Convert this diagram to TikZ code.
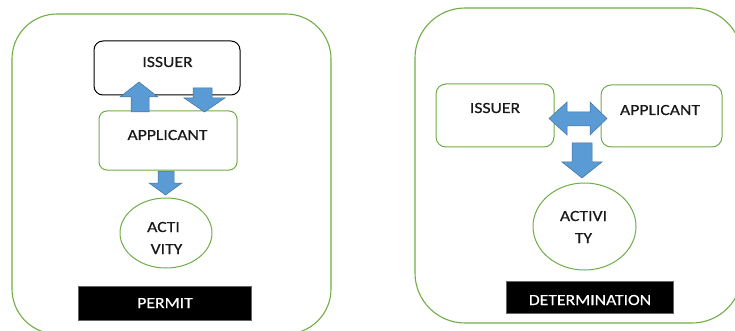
\documentclass[tikz,border=0pt]{standalone}
\usepackage{fontspec}
\newfontfamily\lab[FakeStretch=1.14,FakeBold=0.5]{Carlito}
\usetikzlibrary{shapes.geometric}
\definecolor{gline}{HTML}{70AD47}
\definecolor{afill}{HTML}{5B9BD5}
\definecolor{aline}{HTML}{41719C}
\tikzset{
  panel/.style={draw=gline, line width=1.1pt, rounded corners=#1, inner sep=0pt},
  gbox/.style={draw=gline, line width=1pt, rounded corners=8pt, fill=white, inner sep=0pt},
  kbox/.style={draw=black, line width=1pt, rounded corners=9pt, fill=white, inner sep=0pt},
  gell/.style={draw=gline, line width=1pt, ellipse, fill=white, inner sep=0pt},
  tagbox/.style={fill=black, draw=black!60, line width=0.4pt, inner sep=0pt},
  txt/.style={anchor=base, inner sep=0pt, text=black!90, font={\lab\fontsize{15.5}{18}\selectfont}},
  wtxt/.style={txt, text=white},
  blockarrow/.style={fill=afill, draw=aline, line width=0.5pt, line join=miter}
}
\begin{document}
\begin{tikzpicture}[x=1pt,y=-1pt]
\useasboundingbox (0,0) rectangle (735,331);
\clip (0,0) rectangle (735,331);
% ---------- left panel: PERMIT ----------
\node[panel=45pt, minimum width=319pt, minimum height=320pt] (lpanel) at (171.5,174) {};
\node[kbox, minimum width=146pt, minimum height=54pt] (liss) at (167,68) {};
\node[txt] (lisst) at (167.5,67) {ISSUER};
\node[gbox, minimum width=138pt, minimum height=59pt] (lapp) at (168,140.5) {};
\node[txt] (lappt) at (167.5,140) {APPLICANT};
\node[gell, minimum width=92pt, minimum height=70pt] (lact) at (166,233) {};
\node[txt] (lact1) at (163.5,232) {ACTI};
\node[txt] (lact2) at (166.5,254) {VITY};
\node[tagbox, minimum width=173pt, minimum height=34pt] (permit) at (164.5,303) {};
\node[wtxt] (permitt) at (165,308) {PERMIT};
% arrows
\draw[blockarrow] (131,112) -- (131,97) -- (120,97) -- (139,82) -- (158,97) -- (149,97) -- (149,112) -- cycle;
\draw[blockarrow] (193,88) -- (212,88) -- (212,98) -- (225,98) -- (204.5,112) -- (184,98) -- (193,98) -- cycle;
\draw[blockarrow] (158,171) -- (174,171) -- (174,183) -- (182,183) -- (165.5,195) -- (149,183) -- (158,183) -- cycle;
% ---------- right panel: DETERMINATION ----------
\node[panel=50pt, minimum width=327pt, minimum height=315pt] (rpanel) at (578.5,165.5) {};
\node[gbox, rounded corners=10pt, minimum width=118pt, minimum height=63pt] (riss) at (495,115.5) {};
\node[txt] (risst) at (495,113) {ISSUER};
\node[gbox, rounded corners=10pt, minimum width=121pt, minimum height=62pt] (rapp) at (661.5,116) {};
\node[txt] (rappt) at (660,115) {APPLICANT};
\node[gell, minimum width=103pt, minimum height=87pt] (ract) at (584.5,226.5) {};
\node[txt] (ract1) at (583.5,221) {ACTIVI};
\node[txt] (ract2) at (583.5,243) {TY};
\node[tagbox, minimum width=167pt, minimum height=32pt] (det) at (589.5,297) {};
\node[wtxt] (dett) at (590,305) {DETERMINATION};
% arrows
\draw[blockarrow] (549,118.5) -- (567,102) -- (567,112) -- (590,112) -- (590,102) -- (607,118.5) -- (590,135) -- (590,126) -- (567,126) -- (567,135) -- cycle;
\draw[blockarrow] (572,143) -- (592,143) -- (592,162) -- (602,162) -- (582,178) -- (562,162) -- (572,162) -- cycle;
\end{tikzpicture}
\end{document}
